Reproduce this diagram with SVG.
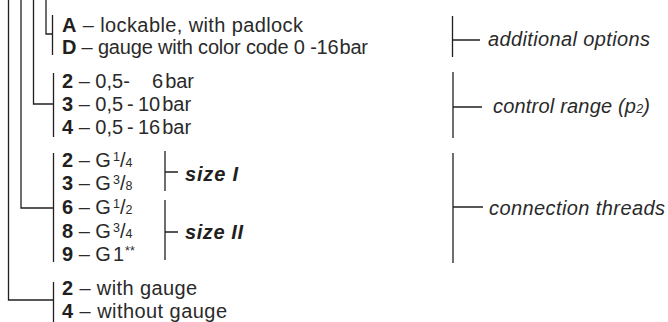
<svg xmlns="http://www.w3.org/2000/svg" width="668" height="322" viewBox="0 0 668 322">
<style>
text{font-family:"Liberation Sans",Arial,sans-serif;font-size:20px;fill:#2a2a2a}
.b{font-weight:bold;fill:#231f20}
.i{font-style:italic}
.bi{font-weight:bold;font-style:italic;fill:#231f20}
.s{font-size:12.5px}
.c{fill:none;stroke:#231f20;stroke-width:1.3}
</style>
<rect width="668" height="322" fill="#fff"/>
<g id="connectors">
<path class="c" d="M46,0V34H52.5M52.5,15V55"/>
<path class="c" d="M33.5,0V104H53.5M53.5,73V137"/>
<path class="c" d="M21,0V208H53.5M53.5,153V262"/>
<path class="c" d="M8.5,0V300H53.5M53.5,282V322"/>
<path class="c" d="M165,151V191M165,172H178"/>
<path class="c" d="M165,200V260M165,232H178"/>
<path class="c" d="M452.5,16V57M452.5,40H480"/>
<path class="c" d="M453,72V138M453,107H482"/>
<path class="c" d="M453,153V263M453,207H483"/>
</g>
<g id="additional-options">
<text x="62" y="31.5" textLength="241" lengthAdjust="spacing"><tspan class="b">A</tspan> – lockable, with padlock</text>
<text x="62" y="54" textLength="306" lengthAdjust="spacing"><tspan class="b">D</tspan> – gauge with color code 0 -16<tspan dx="1">bar</tspan></text>
</g>
<g id="control-range">
<text x="62" y="88"><tspan class="b">2</tspan> – 0,5-<tspan x="152">6</tspan><tspan dx="2">bar</tspan></text>
<text x="62" y="111"><tspan class="b">3</tspan> – 0,5<tspan x="127">-</tspan><tspan x="138">10</tspan><tspan dx="2">bar</tspan></text>
<text x="62" y="134"><tspan class="b">4</tspan> – 0,5<tspan x="127">-</tspan><tspan x="138">16</tspan><tspan dx="2">bar</tspan></text>
</g>
<g id="connection-threads">
<text x="62" y="167"><tspan class="b">2</tspan> – G<tspan class="s" dx="2" dy="-6">1</tspan><tspan dy="6">/</tspan><tspan class="s">4</tspan></text>
<text x="62" y="190"><tspan class="b">3</tspan> – G<tspan class="s" dx="2" dy="-6">3</tspan><tspan dy="6">/</tspan><tspan class="s">8</tspan></text>
<text x="62" y="214"><tspan class="b">6</tspan> – G<tspan class="s" dx="2" dy="-6">1</tspan><tspan dy="6">/</tspan><tspan class="s">2</tspan></text>
<text x="62" y="238"><tspan class="b">8</tspan> – G<tspan class="s" dx="2" dy="-6">3</tspan><tspan dy="6">/</tspan><tspan class="s">4</tspan></text>
<text x="62" y="261"><tspan class="b">9</tspan> – G<tspan dx="2">1</tspan><tspan class="s" dx="1" dy="-6">**</tspan></text>
</g>
<g id="size-1"><text class="bi" x="185" y="181" textLength="53" lengthAdjust="spacing">size I</text></g>
<g id="size-2"><text class="bi" x="185" y="239" textLength="58" lengthAdjust="spacing">size II</text></g>
<g id="gauge">
<text x="62" y="295" textLength="135" lengthAdjust="spacing"><tspan class="b">2</tspan> – with gauge</text>
<text x="62" y="318" textLength="165" lengthAdjust="spacing"><tspan class="b">4</tspan> – without gauge</text>
</g>
<g id="label-additional"><text class="i" x="488" y="46" textLength="162" lengthAdjust="spacing">additional options</text></g>
<g id="label-control"><text class="i" x="493" y="113" textLength="157" lengthAdjust="spacing">control range (p<tspan class="s">2</tspan>)</text></g>
<g id="label-connection"><text class="i" x="489" y="215" textLength="176" lengthAdjust="spacing">connection threads</text></g>
</svg>
